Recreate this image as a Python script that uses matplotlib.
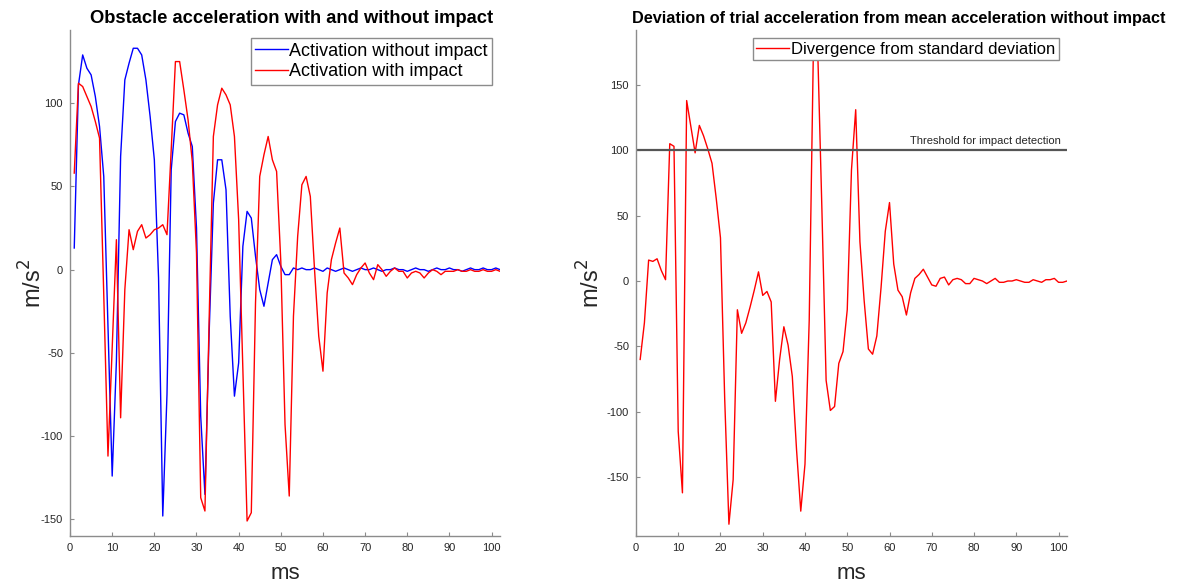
import numpy as np
import matplotlib
matplotlib.use('Agg')
import matplotlib.pyplot as plt

plt.rcParams['font.family'] = ['Liberation Sans', 'DejaVu Sans']
plt.rcParams['axes.unicode_minus'] = False

# time axis (ms)
ms = np.arange(1, 103)

# obstacle acceleration, activation without impact (m/s^2)
acc_no_impact = [13, 111, 129, 121, 117, 104, 86, 56, -34, -124,
                 -55, 68, 114, 124, 133, 133, 129, 114, 92, 66,
                 -5, -148, -75, 60, 89, 94, 93, 82, 74, 25,
                 -88, -135, -38, 40, 66, 66, 48, -28, -76, -56,
                 14, 35, 31, 8, -12, -22, -8, 6, 9, 2,
                 -3, -3, 1, 0, 1, 0, 0, 1, 0, -1,
                 1, 0, -1, 0, 1, 0, -1, 0, 1, 0,
                 0, 1, 0, -1, 0, 0, 1, 0, 0, -1,
                 0, 1, 0, 0, -1, 0, 1, 0, 0, 1,
                 0, 0, -1, 0, 1, 0, 0, 1, 0, 0,
                 1, 0]

# obstacle acceleration, activation with impact (m/s^2)
acc_impact = [58, 112, 110, 104, 98, 89, 79, -15, -112, -47,
              18, -89, -12, 24, 12, 23, 27, 19, 21, 24,
              25, 27, 21, 72, 125, 125, 108, 90, 65, 10,
              -137, -145, -30, 80, 99, 109, 105, 99, 80, 30,
              -60, -151, -146, -20, 56, 69, 80, 66, 59, 5,
              -93, -136, -28, 20, 51, 56, 44, 0, -40, -61,
              -14, 6, 16, 25, -2, -5, -9, -3, 1, 4,
              -2, -6, 3, 0, -4, -1, 1, -1, -1, -5,
              -2, -1, -2, -5, -2, 0, -1, -3, -1, -1,
              -1, 0, -1, -1, 0, -1, -1, 0, -1, -1,
              0, -1]

# deviation of trial acceleration from mean (m/s^2)
divergence = [-60, -32, 16, 15, 17, 8, 1, 105, 103, -115,
              -162, 138, 118, 98, 119, 111, 101, 90, 63, 33,
              -90, -186, -152, -22, -40, -32, -20, -7, 7, -11,
              -8, -16, -92, -60, -35, -49, -73, -129, -176, -140,
              -30, 180, 178, 55, -76, -99, -96, -63, -54, -22,
              85, 131, 30, -15, -52, -56, -42, -5, 38, 60,
              13, -7, -12, -26, -9, 2, 5, 9, 3, -3,
              -4, 2, 3, -3, 1, 2, 1, -2, -2, 2,
              1, 0, -2, 0, 2, -1, -1, 0, 0, 1,
              0, -1, -1, 1, 0, -1, 1, 1, 2, -1,
              -1, 0]

threshold = 100

axis_grey = '#8c8c8c'
text_grey = '#262626'


def style_axes(ax, ylab_x):
    for s in ['top', 'right']:
        ax.spines[s].set_visible(False)
    for s in ['left', 'bottom']:
        ax.spines[s].set_color(axis_grey)
        ax.spines[s].set_linewidth(1.0)
    ax.tick_params(direction='in', length=3, width=0.8, color=axis_grey,
                   labelcolor=text_grey, labelsize=8, pad=5)
    ax.set_xlim(0, 102)
    ax.set_xticks(np.arange(0, 101, 10))
    ax.set_xlabel('ms', fontsize=16, color=text_grey, labelpad=7)
    ax.set_ylabel('m/s$^2$', fontsize=17, color=text_grey)
    ax.yaxis.set_label_coords(ylab_x, 0.5)


fig = plt.figure(figsize=(11.79, 5.85), dpi=100)
ax1 = fig.add_axes([0.0594, 0.0838, 0.3647, 0.865])
ax2 = fig.add_axes([0.5394, 0.0838, 0.3656, 0.865])

# left: with / without impact
ax1.plot(ms, acc_no_impact, color='#0000ff', lw=1.0, label='Activation without impact')
ax1.plot(ms, acc_impact, color='#ff0000', lw=1.0, label='Activation with impact')
style_axes(ax1, -0.055)
ax1.set_ylim(-160, 144)
ax1.set_yticks(np.arange(-150, 101, 50))
ax1.set_title('Obstacle acceleration with and without impact',
              fontsize=13.2, fontweight='bold', pad=5, x=0.515)
ax1.legend(loc='upper right', fontsize=13, fancybox=False, framealpha=1,
           edgecolor=axis_grey, handlelength=1.8, handletextpad=0.05,
           borderpad=0.25, labelspacing=0.2, borderaxespad=0.45)

# right: divergence and threshold
ax2.plot(ms, divergence, color='#ff0000', lw=1.0, label='Divergence from standard deviation')
ax2.axhline(threshold, color='#555555', lw=1.6)
ax2.text(100.5, threshold + 3, 'Threshold for impact detection',
         ha='right', va='bottom', fontsize=8, color=text_grey)
style_axes(ax2, -0.073)
ax2.set_ylim(-195, 192)
ax2.set_yticks(np.arange(-150, 151, 50))
ax2.set_title('Deviation of trial acceleration from mean acceleration without impact',
              fontsize=11.7, fontweight='bold', pad=5, x=0.61)
ax2.legend(loc='upper right', fontsize=12, fancybox=False, framealpha=1,
           edgecolor=axis_grey, handlelength=2.0, handletextpad=0.1,
           borderpad=0.2, labelspacing=0.1, borderaxespad=0.5)

fig.savefig('out.png', dpi=100)
